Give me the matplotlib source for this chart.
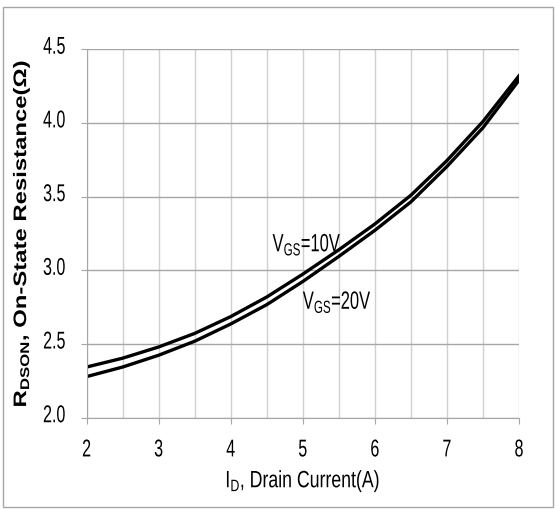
import matplotlib
matplotlib.use("Agg")
import matplotlib.pyplot as plt
from matplotlib.patches import Rectangle
from matplotlib.ticker import MultipleLocator
from matplotlib.patheffects import AbstractPathEffect
from matplotlib.transforms import Affine2D, ScaledTranslation

plt.rcParams['font.family'] = ['Liberation Sans', 'DejaVu Sans']
plt.rcParams['mathtext.fontset'] = 'custom'
plt.rcParams['mathtext.rm'] = 'Liberation Sans'
plt.rcParams['mathtext.bf'] = 'Liberation Sans:bold'

# drain current (A)
i_d = [2.0, 2.5, 3.0, 3.5, 4.0, 4.5, 5.0, 5.5, 6.0, 6.5, 7.0, 7.5, 8.0]
# on-state resistance (ohm)
r_vgs10 = [2.345, 2.405, 2.481, 2.573, 2.687, 2.820, 2.975, 3.140, 3.315, 3.510, 3.745, 4.010, 4.320]
r_vgs20 = [2.280, 2.345, 2.425, 2.520, 2.637, 2.768, 2.925, 3.095, 3.272, 3.465, 3.705, 3.968, 4.290]

x_ticks = [2, 3, 4, 5, 6, 7, 8]
y_ticks = [2.0, 2.5, 3.0, 3.5, 4.0, 4.5]


class Squeeze(AbstractPathEffect):
    """condensed look: scale glyph paths in text-local coords"""
    def __init__(self, sx=1.0, sy=1.0, anchor='center'):
        super().__init__()
        self.sx, self.sy, self.anchor = sx, sy, anchor

    def draw_path(self, renderer, gc, tpath, affine, rgbFace=None):
        ext = tpath.get_extents()
        if self.anchor == 'left':
            ax0 = ext.x0
        elif self.anchor == 'right':
            ax0 = ext.x1
        else:
            ax0 = (ext.x0 + ext.x1) / 2
        ay0 = (ext.y0 + ext.y1) / 2 if self.sy != 1.0 else 0
        t = Affine2D().translate(-ax0, -ay0).scale(self.sx, self.sy).translate(ax0, ay0)
        renderer.draw_path(gc, tpath, t + affine, rgbFace)


fig = plt.figure(figsize=(5.55, 5.09), dpi=100)
ax = fig.add_axes([0.156, 0.179, 0.779, 0.724])

ax.plot(i_d, r_vgs10, color='black', lw=2.4)
ax.plot(i_d, r_vgs20, color='black', lw=2.4)

ax.set_xlim(2, 8)
ax.set_ylim(2.0, 4.5)
ax.set_xticks(x_ticks)
ax.set_yticks(y_ticks)
ax.set_yticklabels([f"{v:.1f}" for v in y_ticks])
ax.xaxis.set_minor_locator(MultipleLocator(0.5))

ax.grid(True, which='major', axis='y', color='#a6a6a6', lw=1.0)
ax.grid(True, which='both', axis='x', color='#d0d0d0', lw=1.0)
ax.set_axisbelow(True)

for s in ['top', 'right']:
    ax.spines[s].set_visible(False)
for s in ['left', 'bottom']:
    ax.spines[s].set_color('#a6a6a6')
ax.tick_params(which='major', direction='out', length=4.5, color='#a6a6a6',
               labelsize=17.5)
ax.tick_params(axis='x', pad=11)
ax.tick_params(axis='y', pad=10.5)
ax.tick_params(which='minor', length=0)

lift = ScaledTranslation(0, 3 / 72, fig.dpi_scale_trans)
for lab in ax.get_xticklabels():
    lab.set_path_effects([Squeeze(0.66, anchor='center')])
for lab in ax.get_yticklabels():
    lab.set_path_effects([Squeeze(0.66, anchor='right')])
    lab.set_transform(lab.get_transform() + lift)

t1 = ax.text(4.58, 3.13, r'V$_{\mathrm{GS}}$=10V', fontsize=18)
t2 = ax.text(5.0, 2.74, r'V$_{\mathrm{GS}}$=20V', fontsize=18)
for t in (t1, t2):
    t.set_path_effects([Squeeze(0.66, anchor='left')])

xl = ax.set_xlabel(r'I$_{\mathrm{D}}$, Drain Current(A)', fontsize=17, labelpad=5)
xl.set_path_effects([Squeeze(0.75, anchor='center')])
yl = ax.set_ylabel(r'R$_{\mathbf{DSON}}$, On-State Resistance(Ω)', fontsize=17.2,
                   fontweight='bold')
yl.set_path_effects([Squeeze(1.0, 0.76)])
ax.yaxis.set_label_coords(-0.12, 0.5)

fig.patches.append(Rectangle((0.006, 0.004), 0.99, 0.982, transform=fig.transFigure,
                             fill=False, edgecolor='#a6a6a6', lw=1.0))

fig.savefig('out.png', dpi=100)
